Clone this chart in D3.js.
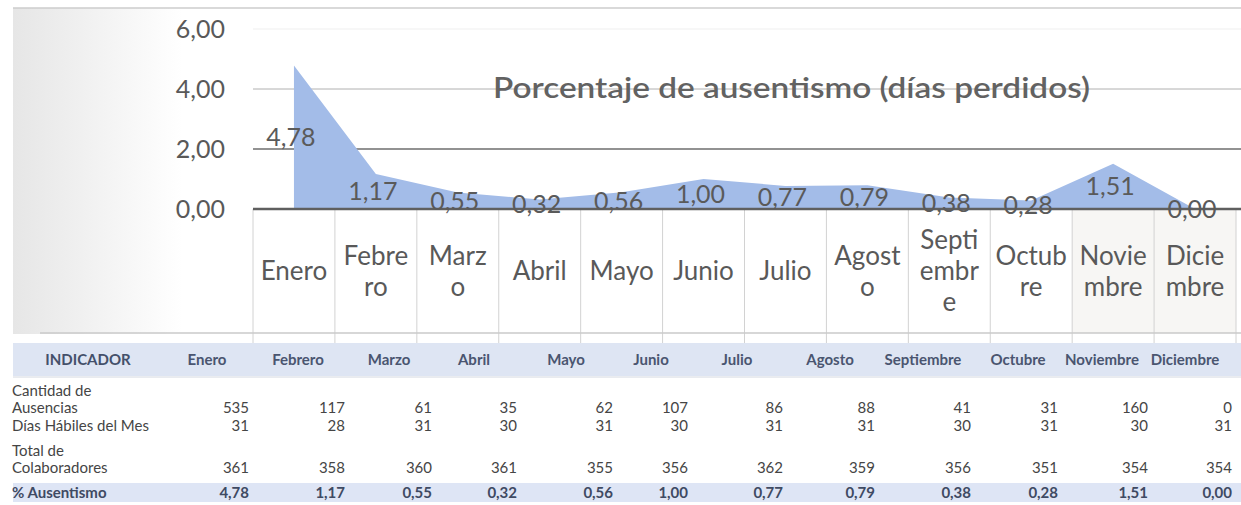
<!DOCTYPE html>
<html>
<head>
<meta charset="utf-8">
<script src="https://cdn.jsdelivr.net/npm/d3@7"></script>
<style>
  body { margin: 0; background: #fff; }
  svg { display: block; font-family: Lato, "Open Sans", sans-serif; }
</style>
</head>
<body>
<svg id="chart"></svg>
<script>
const W = 1241;
const H = 505;

// data
const months = ["Enero", "Febrero", "Marzo", "Abril", "Mayo", "Junio", "Julio", "Agosto", "Septiembre", "Octubre", "Noviembre", "Diciembre"];
const monthLines = [["Enero"], ["Febre", "ro"], ["Marz", "o"], ["Abril"], ["Mayo"], ["Junio"], ["Julio"], ["Agost", "o"], ["Septi", "embr", "e"], ["Octub", "re"], ["Novie", "mbre"], ["Dicie", "mbre"]];
const pctAusentismo = [4.78, 1.17, 0.55, 0.32, 0.56, 1.00, 0.77, 0.79, 0.38, 0.28, 1.51, 0.00];
const cantidadAusencias = [535, 117, 61, 35, 62, 107, 86, 88, 41, 31, 160, 0];
const diasHabiles = [31, 28, 31, 30, 31, 30, 31, 31, 30, 31, 30, 31];
const totalColaboradores = [361, 358, 360, 361, 355, 356, 362, 359, 356, 351, 354, 354];
const yTicks = [0, 2, 4, 6];
const chartTitle = "Porcentaje de ausentismo (días perdidos)";

// table layout (column anchors of the spreadsheet)
const colHeadX = [207, 298, 389, 474, 566, 651, 737, 830, 923, 1018, 1102, 1185];
const colRight = [249, 345, 432, 517, 613, 688, 783, 875, 971, 1058, 1148, 1232];

const locale = d3.formatLocale({ decimal: ",", thousands: ".", grouping: [3], currency: ["", "€"] });
const f2 = locale.format(".2f");

const svg = d3.select("#chart").attr("width", W).attr("height", H);

// scan shading on the left + top border
const defs = svg.append("defs");
const grad = defs.append("linearGradient").attr("id", "leftShade");
grad.append("stop").attr("offset", "0%").attr("stop-color", "#e6e6e6");
grad.append("stop").attr("offset", "100%").attr("stop-color", "#ffffff");
svg.append("rect").attr("x", 13).attr("y", 8).attr("width", 170).attr("height", 326).attr("fill", "url(#leftShade)");
svg.append("line").attr("x1", 13).attr("x2", W).attr("y1", 8).attr("y2", 8)
  .attr("stroke", "#cccccc").attr("stroke-width", 1.5);

const x = d3.scaleBand().domain(months).range([253, 1236]).padding(0);
const y = d3.scaleLinear().domain([0, 6]).range([209, 29]);
const cx = m => x(m) + x.bandwidth() / 2;

// gridlines
const gridStyle = { 0: ["#5f5f5f", 2.5], 2: ["#6e6e6e", 1.5], 4: ["#b0b0b0", 1], 6: ["#efefef", 1] };
svg.append("g").selectAll("line")
  .data(yTicks.filter(t => t > 0))
  .enter()
  .append("line")
  .attr("x1", 253).attr("x2", W)
  .attr("y1", d => y(d)).attr("y2", d => y(d))
  .attr("stroke", d => gridStyle[d][0])
  .attr("stroke-width", d => gridStyle[d][1]);

// y tick labels
svg.append("g").selectAll("text")
  .data(yTicks)
  .enter()
  .append("text")
  .attr("x", 225)
  .attr("y", d => y(d) + 9)
  .attr("text-anchor", "end")
  .style("font-size", "25px")
  .style("fill", "#595959")
  .text(d => f2(d));

// title (gridline runs through it, like the original)
svg.append("text")
  .attr("x", 493)
  .attr("y", 98)
  .attr("textLength", 597)
  .attr("lengthAdjust", "spacingAndGlyphs")
  .style("font-size", "28px")
  .style("font-weight", "600")
  .style("fill", "#626262")
  .text(chartTitle);

// area
const series = months.map((m, i) => ({ m, v: pctAusentismo[i] }));
const area = d3.area()
  .x(d => cx(d.m))
  .y0(y(0))
  .y1(d => y(d.v));

svg.append("path")
  .datum(series)
  .attr("d", area)
  .attr("fill", "#a3bce8");

// category cells below the axis
const cells = svg.append("g");
cells.selectAll("rect")
  .data(months.slice(10))
  .enter()
  .append("rect")
  .attr("x", d => x(d)).attr("y", y(0))
  .attr("width", x.bandwidth()).attr("height", 333 - y(0))
  .attr("fill", "#f7f6f4");

cells.selectAll("line")
  .data(months.concat(["end"]))
  .enter()
  .append("line")
  .attr("x1", (d, i) => x.range()[0] + i * x.bandwidth())
  .attr("x2", (d, i) => x.range()[0] + i * x.bandwidth())
  .attr("y1", y(0)).attr("y2", 348)
  .attr("stroke", "#d2d2d2").attr("stroke-width", 1);

svg.append("line").attr("x1", 40).attr("x2", W).attr("y1", 333).attr("y2", 333)
  .attr("stroke", "#cacaca").attr("stroke-width", 1.5);

// zero axis on top of the area
svg.append("line")
  .attr("x1", 253).attr("x2", W)
  .attr("y1", y(0)).attr("y2", y(0))
  .attr("stroke", gridStyle[0][0]).attr("stroke-width", gridStyle[0][1]);

// category labels (wrapped like the Excel cells)
const lineH = 31;
svg.append("g").selectAll("text")
  .data(months)
  .enter()
  .append("text")
  .attr("text-anchor", "middle")
  .style("font-size", "26px")
  .style("fill", "#595959")
  .each(function(m, i) {
    const lines = monthLines[i];
    const top = 271 - (lines.length - 1) * lineH / 2;
    d3.select(this).selectAll("tspan")
      .data(lines)
      .enter()
      .append("tspan")
      .attr("x", cx(m))
      .attr("y", (d, j) => top + j * lineH + 9)
      .text(d => d);
  });

// data labels at half height of each point
svg.append("g").selectAll("text")
  .data(series)
  .enter()
  .append("text")
  .attr("x", d => cx(d.m) - 3)
  .attr("y", d => y(d.v / 2) + 9)
  .attr("text-anchor", "middle")
  .style("font-size", "25px")
  .style("fill", "#5a5a5a")
  .text(d => f2(d.v));

// ---- table ----
const table = svg.append("g").style("font-size", "15px");

table.append("rect").attr("x", 13).attr("y", 343).attr("width", W - 13).attr("height", 33).attr("fill", "#dee5f3");
table.append("line").attr("x1", 13).attr("x2", W).attr("y1", 377).attr("y2", 377)
  .attr("stroke", "#d4d8e0").attr("stroke-width", 1);
table.append("rect").attr("x", 13).attr("y", 483).attr("width", W - 13).attr("height", 19).attr("fill", "#dee5f5");

table.append("text")
  .attr("x", 88).attr("y", 365)
  .attr("text-anchor", "middle")
  .style("font-weight", "bold")
  .style("fill", "#44506a")
  .text("INDICADOR");

table.append("g").selectAll("text")
  .data(months)
  .enter()
  .append("text")
  .attr("x", (d, i) => colHeadX[i])
  .attr("y", 365)
  .attr("text-anchor", "middle")
  .style("font-weight", "bold")
  .style("fill", "#4a5570")
  .text(d => d);

const rows = [
  { label: ["Cantidad de", "Ausencias"], values: cantidadAusencias, y: 413, bold: false },
  { label: ["Días Hábiles del Mes"], values: diasHabiles, y: 431, bold: false },
  { label: ["Total de", "Colaboradores"], values: totalColaboradores, y: 473, bold: false },
  { label: ["% Ausentismo"], values: pctAusentismo.map(f2), y: 498, bold: true }
];

rows.forEach(r => {
  const labelTop = r.y - (r.label.length - 1) * 17;
  table.append("text")
    .attr("x", 12)
    .style("font-weight", r.bold ? "bold" : "normal")
    .style("fill", r.bold ? "#3f4a63" : "#454545")
    .selectAll("tspan")
    .data(r.label)
    .enter()
    .append("tspan")
    .attr("x", 12)
    .attr("y", (d, j) => labelTop + j * 17)
    .text(d => d);

  table.append("g").selectAll("text")
    .data(r.values)
    .enter()
    .append("text")
    .attr("x", (d, i) => colRight[i])
    .attr("y", r.y)
    .attr("text-anchor", "end")
    .style("font-weight", r.bold ? "bold" : "normal")
    .style("fill", r.bold ? "#3f4a63" : "#454545")
    .text(d => d);
});
</script>
</body>
</html>
